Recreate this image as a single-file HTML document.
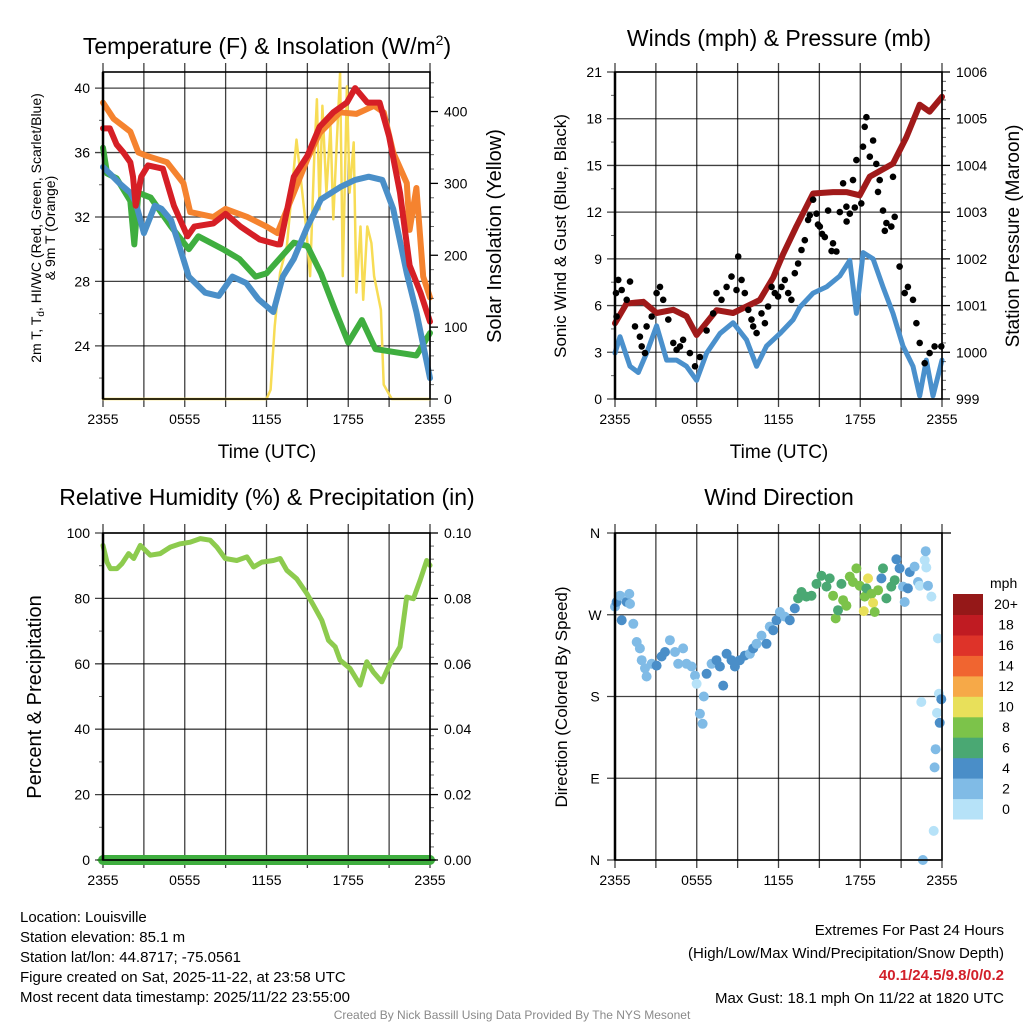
<!DOCTYPE html>
<html><head><meta charset="utf-8">
<style>
html,body{margin:0;padding:0;background:#fff;}
svg{display:block;font-family:"Liberation Sans",sans-serif;}
</style></head>
<body>
<svg id="c" width="1024" height="1024" viewBox="0 0 1024 1024" xmlns="http://www.w3.org/2000/svg">
<g id="layer-grid"></g>
<g id="layer-data"></g>
<g id="layer-axes"></g>
<g id="layer-text">
<text x="267" y="54" font-size="23" text-anchor="middle">Temperature (F) &amp; Insolation (W/m<tspan dy="-9" font-size="14">2</tspan><tspan dy="9">)</tspan></text>
<text x="779" y="46" font-size="23" text-anchor="middle">Winds (mph) &amp; Pressure (mb)</text>
<text x="267" y="505" font-size="23" text-anchor="middle">Relative Humidity (%) &amp; Precipitation (in)</text>
<text x="779" y="505" font-size="23" text-anchor="middle">Wind Direction</text>

<text x="267" y="458" font-size="19" text-anchor="middle">Time (UTC)</text>
<text x="779" y="458" font-size="19" text-anchor="middle">Time (UTC)</text>

<g transform="translate(41,228) rotate(-90)">
<text x="0" y="0" font-size="14" text-anchor="middle">2m T, T<tspan font-size="10" dy="3">d</tspan><tspan dy="-3">, HI/WC (Red, Green, Scarlet/Blue)</tspan></text>
<text x="0" y="14" font-size="14" text-anchor="middle">&amp; 9m T (Orange)</text>
</g>
<text transform="translate(501,236) rotate(-90)" font-size="20" text-anchor="middle">Solar Insolation (Yellow)</text>
<text transform="translate(566,236) rotate(-90)" font-size="17" text-anchor="middle">Sonic Wind &amp; Gust (Blue, Black)</text>
<text transform="translate(1019,236) rotate(-90)" font-size="19" text-anchor="middle">Station Pressure (Maroon)</text>
<text transform="translate(41,697) rotate(-90)" font-size="20" text-anchor="middle">Percent &amp; Precipitation</text>
<text transform="translate(567,697) rotate(-90)" font-size="17" text-anchor="middle">Direction (Colored By Speed)</text>

<g font-size="15">
<text x="20" y="922">Location: Louisville</text>
<text x="20" y="942">Station elevation: 85.1 m</text>
<text x="20" y="962">Station lat/lon: 44.8717; -75.0561</text>
<text x="20" y="982">Figure created on Sat, 2025-11-22, at 23:58 UTC</text>
<text x="20" y="1002">Most recent data timestamp: 2025/11/22 23:55:00</text>
</g>
<g font-size="15" text-anchor="end">
<text x="1004" y="935">Extremes For Past 24 Hours</text>
<text x="1004" y="958">(High/Low/Max Wind/Precipitation/Snow Depth)</text>
<text x="1004" y="980" fill="#d2202a" font-weight="bold">40.1/24.5/9.8/0/0.2</text>
<text x="1004" y="1003">Max Gust: 18.1 mph On 11/22 at 1820 UTC</text>
</g>
<text x="512" y="1019" font-size="12" fill="#8a8a8a" text-anchor="middle">Created By Nick Bassill Using Data Provided By The NYS Mesonet</text>
</g>
</svg>
<script>
// ---------- Temperature panel data ----------
const orangeHours = [0,0.78,2,2.6,3.2,4.7,5.9,6.4,8.1,9,10.6,12,12.8,14,15,15.9,17.4,18.6,19.9,20.6,21.3,22.3,22.5,23,23.5,24];
const orangeTemps = [39.1,38.1,37.3,36,35.8,35.4,34.1,32.3,32,32.5,32,31.4,31,33.5,35.6,37.2,38.5,38.4,38.9,38.5,36,34.1,31.2,33.8,28.3,27];
const redHours = [0,0.5,1,1.5,2,2.2,2.4,2.8,3.3,4.4,5.2,6.2,6.7,8.1,9,10.1,11.5,12.8,13,14,15,15.9,16.9,17.9,18.5,19.4,20.3,21,21.8,22.5,23.3,24];
const redTemps = [37.5,37.5,36.5,36,35.4,34.5,32.7,34.5,35.2,35,32.7,30.8,31.4,31.6,32.2,31.4,30.6,30.3,30.3,34.5,35.8,37.6,38.5,39.1,40,39.1,39.1,37,33.5,29,27.3,25.5];
const greenHours = [0,0.3,1,2,2.3,2.6,3.5,5,6.3,7,8.8,10,11.2,12,14,15,16,17,18,19,20,21.5,23,24];
const greenTemps = [36.3,34.7,34.4,33,30.3,33.5,33.2,31.4,30,30.8,30,29.4,28.3,28.5,30.4,30.2,28.5,26.3,24.2,25.6,23.8,23.6,23.4,24.8];
const blueHours = [0,0.5,1.2,2,2.4,3,3.8,4.3,5,5.6,6.3,7.5,8.5,9.5,10.5,11.4,12.5,13.2,14,15,16,17.5,18.5,19.5,20.5,21.3,22.3,23,24];
const blueTemps = [35.1,34.7,34.1,33.5,32.9,31,32.7,32.5,31.8,30.2,28.3,27.3,27.1,28.3,27.9,26.9,26.1,28.3,29.4,31.4,33.1,33.9,34.3,34.5,34.3,32.5,28.5,26.1,22];
const solarHours = [0,12,12.3,12.6,13,13.5,14.2,14.9,15.2,15.5,15.7,15.9,16.1,16.4,16.7,16.9,17.1,17.4,17.6,17.9,18.1,18.4,18.6,18.9,19.1,19.4,19.7,19.9,20.4,20.6,21.2,24];
const solarValues = [0,0,13,101,176,213,361,240,171,335,417,264,408,287,380,250,334,454,171,435,287,357,148,240,138,240,217,171,124,20,0,0];

// ---------- Wind / pressure panel data ----------
const pressHours = [0,0.86,1.1,2.08,3.05,4.28,5.25,5.99,7.45,8.67,9.65,10.63,11.61,12.34,13.32,14.54,16.01,16.98,17.96,18.7,20.4,21.38,22.36,23.09,24];
const pressValues = [1000.62,1001.05,1001.05,1001.08,1000.84,1000.91,1000.77,1000.37,1000.9,1000.84,1000.98,1001.12,1001.6,1002.1,1002.7,1003.4,1003.43,1003.43,1003.36,1003.76,1004.04,1004.6,1005.3,1005.15,1005.47];
const windHours = [0,0.37,1.1,1.71,2.32,3.05,3.79,4.52,5.25,5.99,6.72,7.7,8.67,9.65,10.39,11.12,12.1,13.08,13.57,14.54,15.52,16.5,17.23,17.72,18.21,18.94,19.67,20.4,21.14,21.87,22.36,22.85,23.34,24];
const windValues = [2.95,4,2.1,1.7,2.95,4.7,2.5,2.5,2.1,1.2,2.95,4.2,4.9,3.8,2.1,3.4,4.2,5.1,5.9,6.8,7.2,7.9,8.9,5.5,9.4,9,7.2,5.5,3.4,2.1,0.2,2.5,0.2,2.5];
const gustHours = [0.12,0.07,0.24,0.49,0.86,1.1,1.47,1.83,1.96,2.2,2.32,2.69,3.05,3.3,3.54,3.91,4.28,4.52,4.77,5.0,5.5,5.87,6.23,6.72,7.2,7.45,7.82,8.19,8.55,8.92,9.04,9.29,9.53,9.78,10.02,10.14,10.39,10.75,11.0,11.24,11.49,11.73,11.97,12.22,12.46,12.71,12.95,13.2,13.44,13.69,13.93,14.17,14.54,14.79,15.03,15.4,15.64,16.0,16.25,16.74,16.98,17.23,17.47,17.72,18.08,18.2,18.33,18.45,18.7,18.94,19.18,19.43,19.67,19.92,20.28,20.4,20.53,20.89,21.26,21.5,21.87,22.12,22.36,22.73,23.09,23.46,23.95,14.3,14.9,15.2,15.9,16.5,17.0,17.6,19.3,19.8];
const gustValues = [5.3,6.8,7.65,7.0,6.37,7.54,4.66,4.0,3.38,2.95,4.66,5.3,6.8,7.2,6.37,5.1,3.6,3.16,3.38,3.8,2.95,2.1,2.7,4.4,5.5,6.8,6.37,7.2,7.86,7.0,9.15,7.65,6.8,5.73,5.1,4.66,4.23,5.5,4.87,5.94,7.2,6.8,6.58,7.2,7.65,6.8,6.37,8.08,8.7,9.57,10.2,11.5,12.8,11.9,11.07,10.4,12.1,10.0,9.47,13.85,12.35,11.9,14.06,15.34,12.56,16.2,17.48,18.1,15.56,16.6,15.1,14.06,12.1,11.3,11.07,14.27,11.7,8.5,6.8,7.2,6.37,4.87,3.6,2.3,2.95,3.38,3.38,11.8,11.2,10.6,9.5,12.0,11.4,12.3,13.3,10.8];

// ---------- RH panel data ----------
const rhHours = [0,0.29,0.54,1.03,1.39,1.88,2.25,2.74,3.47,4.2,4.94,5.67,6.4,7.14,7.87,8.36,8.97,9.82,10.56,11.05,11.66,12.51,13.0,13.49,14.22,14.96,15.45,16.06,16.55,17.04,17.4,18.13,18.87,19.36,19.84,20.46,21.07,21.8,22.29,22.78,23.27,23.76,24];
const rhValues = [96.2,91.1,89.1,89.1,90.6,93.7,92.2,96.2,93.2,93.7,95.7,96.7,97.2,98.3,97.8,95.7,92.2,91.6,92.7,89.6,91.1,91.6,92.2,88.6,86,81.5,77.9,73.3,67.2,65.2,61.1,58.6,53.5,60.6,57.5,54.5,60.1,65.2,80.4,79.9,85.5,91.6,90.1];
const precipHours = [0,24];
const precipValues = [0,0];

// ---------- Wind direction panel data ----------
const dirHours = [0,0.12,0.37,0.49,0.86,1.05,1.1,1.34,1.59,1.83,1.96,2.2,2.32,2.69,3.05,3.42,3.67,4.03,4.4,4.64,5.0,5.25,5.62,5.87,5.99,6.23,6.43,6.52,6.72,7.09,7.45,7.7,7.94,8.19,8.55,8.8,9.16,9.53,9.9,10.14,10.39,10.75,11.12,11.36,11.61,11.85,12.1,12.46,12.83,13.2,13.44,13.69,14.05,14.42,14.79,15.15,15.52,15.76,16.01,16.2,16.37,16.62,16.74,16.98,17.23,17.47,17.72,17.96,18.33,18.45,18.57,18.82,18.94,19.06,18.26,19.31,19.55,19.67,19.92,20.28,20.53,20.65,20.89,21.14,21.26,21.5,21.63,21.99,22.24,22.36,22.73,22.8,22.85,22.97,23.22,23.7,22.48,23.63,23.78,23.95,23.83,23.53,23.46,23.39,22.6];
const dirDegrees = [279,284,291,264,284,293,282,260,240,233,220,211,202,216,214,224,229,242,229,216,233,216,213,203,194,161,150,180,205,216,220,213,192,227,220,213,220,225,227,233,238,247,238,257,253,264,273,268,264,277,288,295,290,291,304,313,301,310,291,266,275,304,286,280,312,306,321,302,290,299,310,293,283,273,274,297,310,321,288,301,308,331,321,301,284,299,317,323,306,302,330,340,322,302,290,244,174,162,183,177,151,122,102,32,0];
const dirSpeeds = [2.5,4.5,2.5,4.5,4.5,2.5,2.5,2.5,2.5,2.5,2.5,2.5,2.5,2.5,4.5,4.5,4.5,2.5,2.5,2.5,2.5,2.5,2.5,2.5,0.5,2.5,2.5,2.5,4.5,2.5,4.5,4.5,4.5,4.5,4.5,4.5,4.5,4.5,2.5,4.5,2.5,2.5,4.5,2.5,4.5,4.5,2.5,2.5,4.5,4.5,6.5,6.5,6.5,6.5,6.5,6.5,6.5,6.5,8.5,8.5,6.5,6.5,8.5,8.5,8.5,8.5,8.5,8.5,8.5,6.5,10.5,8.5,10.5,8.5,10.5,8.5,4.5,6.5,6.5,6.5,6.5,4.5,4.5,2.5,2.5,4.5,4.5,2.5,2.5,0.5,0.5,2.5,0.5,2.5,0.5,0.5,0.5,0.5,0.5,4.5,4.5,2.5,2.5,0.5,2.5];
const speedLabels = ["0","2","4","6","8","10","12","14","16","18","20+"];
const speedColors = ["#b6e2f8","#80bbe6","#4a8ec8","#4aa873","#7cc34a","#e8e05a","#f6a948","#f06530","#de3329","#c01b22","#951818"];

const timeTicks = ["2355","0555","1155","1755","2355"];
const tempTicks = [24,28,32,36,40];
const solarTicks = [0,100,200,300,400];
const windTicks = [0,3,6,9,12,15,18,21];
const pressTicks = [999,1000,1001,1002,1003,1004,1005,1006];
const rhTicks = [0,20,40,60,80,100];
const precipTicks = ["0.00","0.02","0.04","0.06","0.08","0.10"];
const dirTicks = ["N","E","S","W","N"];

// ---------- helpers ----------
const NS = "http://www.w3.org/2000/svg";
const gGrid = document.getElementById("layer-grid");
const gData = document.getElementById("layer-data");
const gAxes = document.getElementById("layer-axes");
function mk(tag, attrs, parent){ const e=document.createElementNS(NS,tag); for(const k in attrs) e.setAttribute(k,attrs[k]); parent.appendChild(e); return e; }
function linScale(d0,d1,r0,r1){ return v => r0 + (v-d0)/(d1-d0)*(r1-r0); }

const P1 = {l:103,r:430,t:72,b:399};
const P2 = {l:615,r:942,t:72,b:399};
const P3 = {l:103,r:430,t:533,b:860};
const P4 = {l:615,r:942,t:533,b:860};

function frame(P, name, hTicksY){
  for(let h=0; h<=24; h+=3){
    const x = P.l + h/24*(P.r-P.l);
    const gl = mk("line",{x1:x,x2:x,y1:P.t-9,y2:P.b+8,stroke:"#000","stroke-width":1.3,"stroke-opacity":0.75},gGrid);
    
    
  }
  hTicksY.forEach(y=>{
    const gl = mk("line",{x1:P.l-8,x2:P.r,y1:y,y2:y,stroke:"#000","stroke-width":1.3,"stroke-opacity":0.75},gGrid);
    
    
  });
  const fr = mk("rect",{x:P.l,y:P.t,width:P.r-P.l,height:P.b-P.t,fill:"none",stroke:"#000","stroke-width":1.6},gAxes);
  
  
  mk("line",{x1:P.l,x2:P.l,y1:P.t,y2:P.b,stroke:"#000","stroke-width":2.5},gAxes);
  timeTicks.forEach((t,i)=>{
    const x = P.l + i*6/24*(P.r-P.l);
    const tx = mk("text",{x:x,y:P.b+25,"font-size":14,"text-anchor":"middle"},gAxes);
    tx.textContent = t;
    
    
  });
}
function leftLabels(P, vals, sc, name, fmt){
  vals.forEach(v=>{
    const y = sc(v);
    const t = mk("text",{x:P.l-13,y:y+5,"font-size":14,"text-anchor":"end"},gAxes);
    t.textContent = fmt?fmt(v):v;
    
    
  });
}
function rightAxis(P, labels, ys, minorYs, name){
  minorYs.forEach(y=> mk("line",{x1:P.r,x2:P.r+4,y1:y,y2:y,stroke:"#000","stroke-width":1,"stroke-opacity":0.6},gAxes));
  labels.forEach((lab,i)=>{
    const y = ys[i];
    mk("line",{x1:P.r,x2:P.r+8,y1:y,y2:y,stroke:"#000","stroke-width":1.3},gAxes);
    const t = mk("text",{x:P.r+14,y:y+5,"font-size":14},gAxes);
    t.textContent = lab;
    
    
  });
}
function leftMinor(P, ys){ ys.forEach(y=> mk("line",{x1:P.l-4,x2:P.l,y1:y,y2:y,stroke:"#000","stroke-width":1,"stroke-opacity":0.6},gAxes)); }
function path(xs, ys, sx, sy, color, w, name){
  let d=""; xs.forEach((h,i)=>{ d += (i?"L":"M")+sx(h).toFixed(1)+","+sy(ys[i]).toFixed(1); });
  const p = mk("path",{d:d,fill:"none",stroke:color,"stroke-width":w,"stroke-linejoin":"round","stroke-linecap":"round"},gData);
  
  
  return p;
}

// ---------- Panel 1 ----------
{
  const sx = linScale(0,24,P1.l,P1.r);
  const sy = linScale(20.7,41.0,P1.b,P1.t);
  const sr = linScale(0,455,P1.b,P1.t);
  frame(P1,"temperature",tempTicks.map(sy));
  leftLabels(P1,tempTicks,sy,"temperature-y");
  leftMinor(P1,[22,26,30,34,38].map(sy));
  rightAxis(P1, solarTicks.map(String), solarTicks.map(sr), [20,40,60,80,120,140,160,180,220,240,260,280,320,340,360,380,420,440].map(sr), "solar-y");
  path(solarHours,solarValues,sx,sr,"#f7dc55",2.5,"solar-insolation-line");
  path(orangeHours,orangeTemps,sx,sy,"#f5832f",6,"temperature-9m-line");
  path(greenHours,greenTemps,sx,sy,"#3fae3f",6,"heat-index-wind-chill-line");
  path(blueHours,blueTemps,sx,sy,"#4a8fc8",6,"dewpoint-line");
  path(redHours,redTemps,sx,sy,"#d61f26",6,"temperature-2m-line");
}
// ---------- Panel 2 ----------
{
  const sx = linScale(0,24,P2.l,P2.r);
  const sy = linScale(0,21,P2.b,P2.t);
  const sp = linScale(999,1006,P2.b,P2.t);
  frame(P2,"winds",windTicks.map(sy));
  leftLabels(P2,windTicks,sy,"wind-y");
  leftMinor(P2,[1.5,4.5,7.5,10.5,13.5,16.5,19.5].map(sy));
  const mn=[]; for(let v=999.2; v<1006; v+=0.2){ if(Math.abs(v-Math.round(v))>0.05) mn.push(sp(v)); }
  rightAxis(P2, pressTicks.map(String), pressTicks.map(sp), mn, "pressure-y");
  path(windHours,windValues,sx,sy,"#4a90cc",5,"sonic-wind-line");
  path(pressHours,pressValues,sx,sp,"#a01a1a",6,"station-pressure-line");
  gustHours.forEach((h,i)=>{
    const c = mk("circle",{cx:sx(h).toFixed(1),cy:sy(gustValues[i]).toFixed(1),r:3.3,fill:"#000"},gData);
    
    
  });
}
// ---------- Panel 3 ----------
{
  const sx = linScale(0,24,P3.l,P3.r);
  const sy = linScale(0,100,P3.b,P3.t);
  const spc = linScale(0,0.1,P3.b,P3.t);
  frame(P3,"humidity",rhTicks.map(sy));
  leftLabels(P3,rhTicks,sy,"humidity-y");
  leftMinor(P3,[10,30,50,70,90].map(sy));
  const mn=[]; for(let k=1;k<50;k++){ if(k%10) mn.push(spc(k*0.002)); }
  rightAxis(P3, precipTicks, precipTicks.map(v=>spc(parseFloat(v))), mn.filter((_,i)=>i%2==1), "precip-y");
  path(rhHours,rhValues,sx,sy,"#8dcb4e",5,"relative-humidity-line");
  path(precipHours,precipValues,sx,spc,"#3fae3f",10,"precipitation-line");
  mk("line",{x1:P3.l-6,x2:P3.r+6,y1:P3.b,y2:P3.b,stroke:"#1d6e1d","stroke-width":1.5},gData);
}
// ---------- Panel 4 ----------
{
  const sx = linScale(0,24,P4.l,P4.r);
  const sy = linScale(0,360,P4.b,P4.t);
  const dirVals=[0,90,180,270,360];
  frame(P4,"direction",dirVals.map(sy));
  dirVals.forEach((v,i)=>{
    const t = mk("text",{x:P4.l-20,y:sy(v)+5,"font-size":14,"text-anchor":"middle"},gAxes);
    t.textContent = dirTicks[i];
    
    
  });
  mk("line",{x1:P4.r,x2:P4.r+9,y1:P4.t,y2:P4.t,stroke:"#000","stroke-width":1.3},gAxes);
  function colorFor(s){ let i=Math.floor(s/2); if(i>10) i=10; return speedColors[i]; }
  dirHours.forEach((h,i)=>{
    const c = mk("circle",{cx:sx(h).toFixed(1),cy:sy(dirDegrees[i]).toFixed(1),r:5,fill:colorFor(dirSpeeds[i])},gData);
    
    
  });
  const cbTop=594, cbBot=819, cbx=953, cbw=30, bh=(cbBot-cbTop)/speedColors.length;
  const mph = mk("text",{x:990,y:588,"font-size":14},gAxes);
  mph.textContent="mph";
  
  
  speedColors.forEach((col,i)=>{
    const y = cbBot - (i+1)*bh;
    const r = mk("rect",{x:cbx,y:y.toFixed(1),width:cbw,height:(bh+0.5).toFixed(1),fill:col},gAxes);
    
    
    const t = mk("text",{x:1006,y:(y+bh/2+5).toFixed(1),"font-size":14,"text-anchor":"middle"},gAxes);
    t.textContent = speedLabels[i];
    
    
  });
}
</script>
</body></html>
